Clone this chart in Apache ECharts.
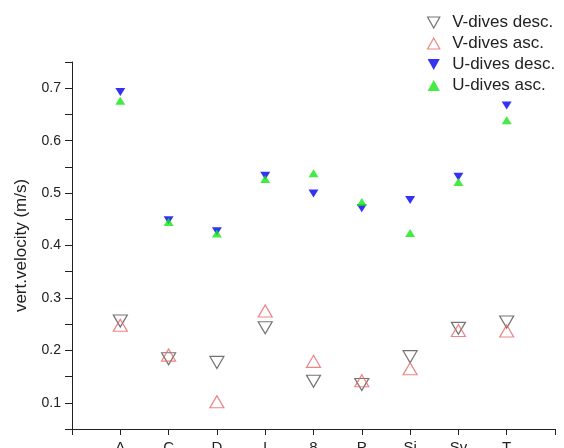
<!DOCTYPE html>
<html>
<head>
<meta charset="utf-8">
<script src="https://cdn.jsdelivr.net/npm/echarts@6/dist/echarts.min.js"></script>
<style>
html,body{margin:0;padding:0;background:#fff;}
#chart{width:564px;height:448px;}
</style>
</head>
<body>
<div id="chart"></div>
<script>
var categories = ['A', 'C', 'D', 'I', '8', 'P', 'Si', 'Sv', 'T'];
var vDivesDesc = [0.256, 0.184, 0.177, 0.243, 0.141, 0.135, 0.188, 0.242, 0.254];
var vDivesAsc  = [0.248, 0.191, 0.102, 0.275, 0.179, 0.142, 0.165, 0.238, 0.237];
var uDivesDesc = [0.693, 0.448, 0.427, 0.533, 0.499, 0.471, 0.487, 0.531, 0.667];
var uDivesAsc  = [0.676, 0.445, 0.423, 0.527, 0.538, 0.483, 0.424, 0.521, 0.639];
var seriesNames = ['V-dives desc.', 'V-dives asc.', 'U-dives desc.', 'U-dives asc.'];

var TRI_UP = 'path://M5,0L10,9L0,9Z';
var TRI_DOWN = 'path://M0,0L10,0L5,9Z';

function toPoints(arr) {
  return arr.map(function (v, i) { return [i + 1, v]; });
}

var chart = echarts.init(document.getElementById('chart'), null, {renderer: 'canvas'});
var axisColor = '#222';
var font = 'Liberation Sans, Arial, Helvetica, sans-serif';
var blue = '#0000ee';
var green = '#14e614';
var gray = '#505050';
var red = '#e86666';

var option = {
  backgroundColor: '#fff',
  animation: false,
  grid: {left: 72, right: 9, top: 62, bottom: 19, containLabel: false, outerBoundsMode: 'none'},
  legend: {
    orient: 'vertical',
    left: 422,
    top: 9,
    itemWidth: 13,
    itemHeight: 11,
    itemGap: 4,
    textStyle: {fontSize: 17, color: '#222', fontFamily: font, padding: [0, 0, 0, 7]},
    data: [
      {name: seriesNames[0], icon: TRI_DOWN, itemStyle: {color: 'transparent', borderColor: gray, borderWidth: 1.2}},
      {name: seriesNames[1], icon: TRI_UP, itemStyle: {color: 'transparent', borderColor: red, borderWidth: 1.2}},
      {name: seriesNames[2], icon: TRI_DOWN, itemStyle: {color: blue, borderWidth: 0}},
      {name: seriesNames[3], icon: TRI_UP, itemStyle: {color: green, borderWidth: 0}}
    ]
  },
  xAxis: {
    type: 'value',
    min: 0,
    max: 10,
    interval: 1,
    splitLine: {show: false},
    axisLine: {show: true, onZero: false, lineStyle: {color: axisColor, width: 1}},
    axisTick: {show: true, inside: false, length: 6, lineStyle: {color: axisColor}},
    axisLabel: {
      margin: 11,
      fontSize: 15,
      color: '#222',
      fontFamily: font,
      showMinLabel: true,
      showMaxLabel: true,
      formatter: function (v) {
        var i = Math.round(v);
        return (i >= 1 && i <= categories.length) ? categories[i - 1] : '';
      }
    }
  },
  yAxis: {
    type: 'value',
    min: 0.05,
    max: 0.75,
    interval: 0.05,
    name: 'vert.velocity (m/s)',
    nameLocation: 'middle',
    nameGap: 42,
    nameTextStyle: {fontSize: 17, color: '#222', fontFamily: font},
    splitLine: {show: false},
    axisLine: {show: true, onZero: false, lineStyle: {color: axisColor, width: 1}},
    axisTick: {show: true, inside: false, length: 7, lineStyle: {color: axisColor}},
    axisLabel: {
      margin: 11,
      fontSize: 14,
      color: '#222',
      fontFamily: font,
      formatter: function (v) {
        var k = Math.round(v * 100);
        return (k % 10 === 0) ? (k / 100).toFixed(1) : '';
      }
    }
  },
  series: [
    {
      name: seriesNames[0], type: 'scatter', symbol: TRI_DOWN, symbolSize: [14, 12],
      itemStyle: {color: 'transparent', borderColor: gray, borderWidth: 1.2},
      data: toPoints(vDivesDesc), z: 2
    },
    {
      name: seriesNames[1], type: 'scatter', symbol: TRI_UP, symbolSize: [14, 12],
      itemStyle: {color: 'transparent', borderColor: red, borderWidth: 1.2},
      data: toPoints(vDivesAsc), z: 3
    },
    {
      name: seriesNames[2], type: 'scatter', symbol: TRI_DOWN, symbolSize: [10, 8],
      itemStyle: {color: blue, borderWidth: 0},
      data: toPoints(uDivesDesc), z: 4
    },
    {
      name: seriesNames[3], type: 'scatter', symbol: TRI_UP, symbolSize: [10, 8],
      itemStyle: {color: green, borderWidth: 0},
      data: toPoints(uDivesAsc), z: 5
    }
  ]
};
chart.setOption(option);
</script>
</body>
</html>
